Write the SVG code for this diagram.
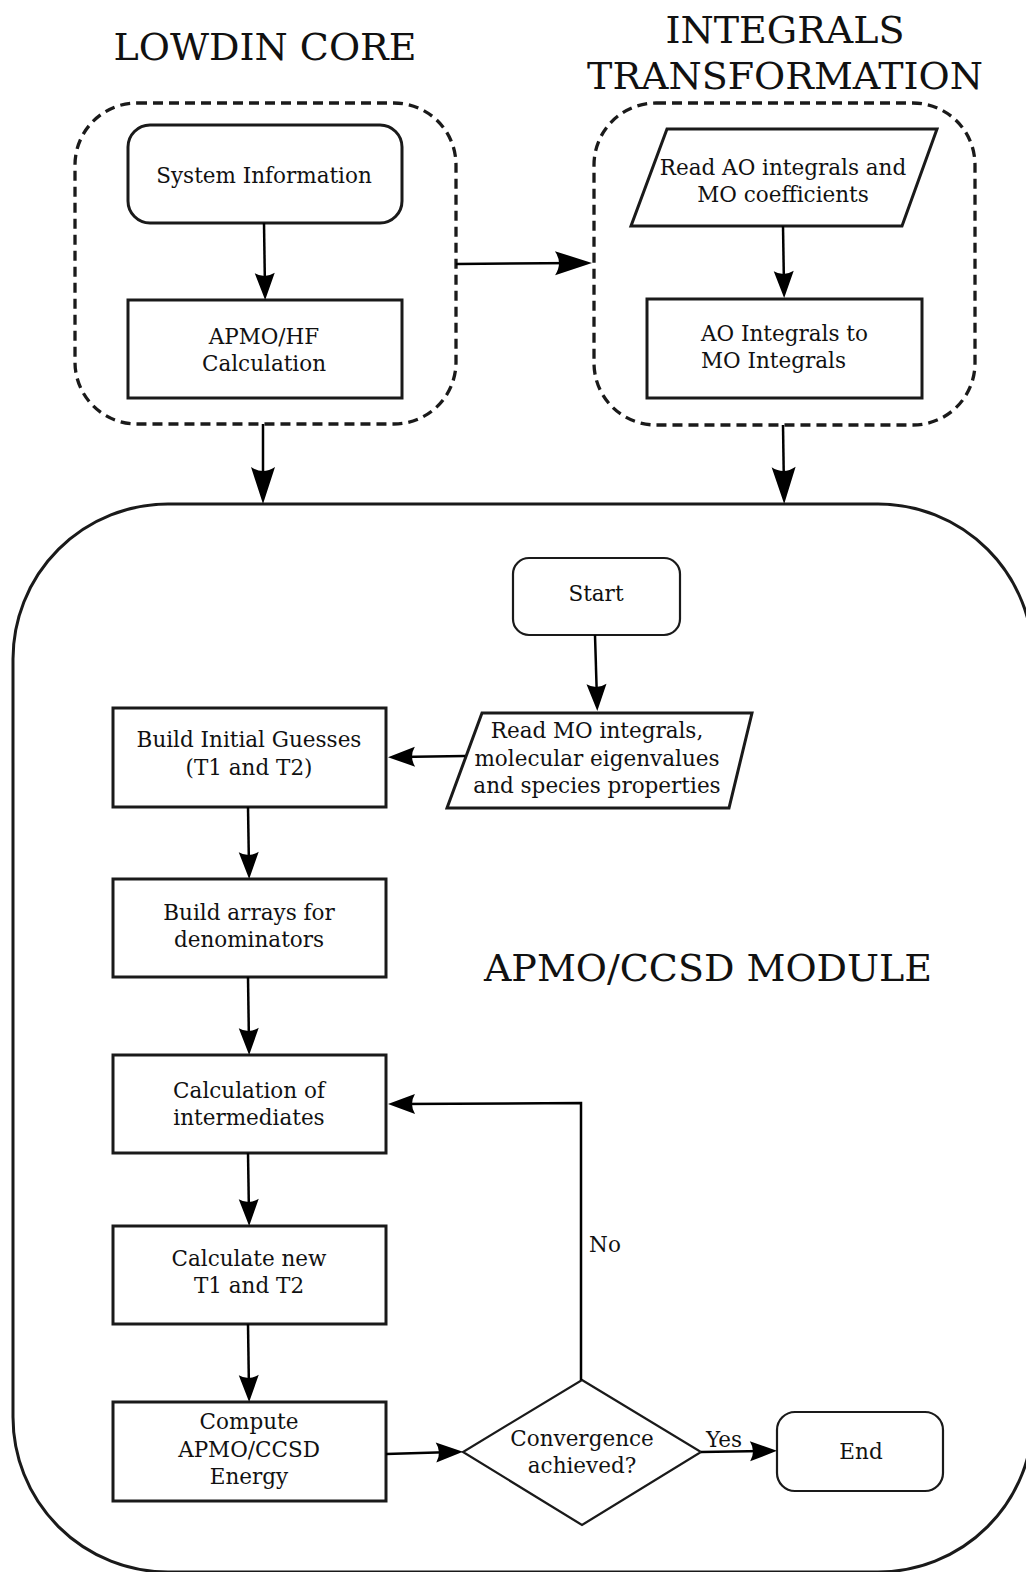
<svg xmlns="http://www.w3.org/2000/svg" width="1026" height="1572" viewBox="0 0 1026 1572">
<style>
text{font-family:"DejaVu Serif","Liberation Serif",serif;fill:#111;}
.t{font-size:21.5px;text-anchor:middle;}
.tl{font-size:21.5px;}
.title{font-size:38px;text-anchor:middle;}
.box{fill:#fff;stroke:#1a1a1a;stroke-width:3;}
.thin{fill:#fff;stroke:#1a1a1a;stroke-width:2.2;}
.dash{fill:none;stroke:#1a1a1a;stroke-width:3.3;stroke-dasharray:10 6;}
.big{fill:none;stroke:#1a1a1a;stroke-width:3;}
.c{fill:none;stroke:#000;stroke-width:2.5;}
</style>
<defs>
<marker id="arr" markerUnits="userSpaceOnUse" viewBox="-30 -12 32 24" markerWidth="32" markerHeight="24" refX="-10" refY="0" orient="auto">
<path d="M0,0 L-27,-10 Q-21,0 -27,10 Z" fill="#000"/>
</marker>
<marker id="arrL" markerUnits="userSpaceOnUse" viewBox="-40 -14 42 28" markerWidth="42" markerHeight="28" refX="-12" refY="0" orient="auto">
<path d="M0,0 L-37,-12 Q-29,0 -37,12 Z" fill="#000"/>
</marker>
</defs>

<text class="title" x="265" y="60">LOWDIN CORE</text>
<text class="title" x="785" y="43">INTEGRALS</text>
<text class="title" x="785" y="89">TRANSFORMATION</text>

<g id="lowdin-core">
<rect class="dash" x="75" y="103" width="381" height="321" rx="62"/>
</g>
<g id="integrals-transformation">
<rect class="dash" x="594" y="103" width="381" height="322" rx="62"/>
</g>
<g id="apmo-ccsd-module">
<rect class="big" x="13" y="504" width="1020" height="1068" rx="155"/>
<text class="title" x="708" y="981">APMO/CCSD MODULE</text>
</g>

<g id="system-information">
<rect class="box" x="128" y="125" width="274" height="98" rx="22"/>
<text class="t" x="264" y="183">System Information</text>
</g>
<g id="apmo-hf">
<rect class="box" x="128" y="300" width="274" height="98"/>
<text class="t" x="264" y="344">APMO/HF</text>
<text class="t" x="264" y="371">Calculation</text>
</g>
<g id="read-ao">
<polygon class="box" points="667,129 937,129 902,226 631,226"/>
<text class="t" x="783" y="175">Read AO integrals and</text>
<text class="t" x="783" y="202">MO coefficients</text>
</g>
<g id="ao-to-mo">
<rect class="box" x="647" y="299" width="275" height="99"/>
<text class="tl" x="701" y="341">AO Integrals to</text>
<text class="tl" x="701" y="368">MO Integrals</text>
</g>

<g id="start">
<rect class="thin" x="513" y="558" width="167" height="77" rx="16"/>
<text class="t" x="596" y="601">Start</text>
</g>
<g id="read-mo">
<polygon class="box" points="482,713 752,713 729,808 447,808"/>
<text class="t" x="597" y="738">Read MO integrals,</text>
<text class="t" x="597" y="766">molecular eigenvalues</text>
<text class="t" x="597" y="793">and species properties</text>
</g>
<g id="build-initial">
<rect class="box" x="113" y="708" width="273" height="99"/>
<text class="t" x="249" y="747">Build Initial Guesses</text>
<text class="t" x="249" y="775">(T1 and T2)</text>
</g>
<g id="build-arrays">
<rect class="box" x="113" y="879" width="273" height="98"/>
<text class="t" x="249" y="920">Build arrays for</text>
<text class="t" x="249" y="947">denominators</text>
</g>
<g id="calc-intermediates">
<rect class="box" x="113" y="1055" width="273" height="98"/>
<text class="t" x="249" y="1098">Calculation of</text>
<text class="t" x="249" y="1125">intermediates</text>
</g>
<g id="calc-new">
<rect class="box" x="113" y="1226" width="273" height="98"/>
<text class="t" x="249" y="1266">Calculate new</text>
<text class="t" x="249" y="1293">T1 and T2</text>
</g>
<g id="compute-energy">
<rect class="box" x="113" y="1402" width="273" height="99"/>
<text class="t" x="249" y="1429">Compute</text>
<text class="t" x="249" y="1457">APMO/CCSD</text>
<text class="t" x="249" y="1484">Energy</text>
</g>
<g id="convergence">
<polygon class="thin" points="582,1380 701,1452 582,1525 463,1452"/>
<text class="t" x="582" y="1446">Convergence</text>
<text class="t" x="582" y="1473">achieved?</text>
</g>
<g id="end">
<rect class="thin" x="777" y="1412" width="166" height="79" rx="18"/>
<text class="t" x="861" y="1459">End</text>
</g>

<g id="connectors">
<line class="c" x1="264" y1="223" x2="265" y2="290" marker-end="url(#arr)"/>
<line class="c" x1="456" y1="264" x2="580" y2="263" marker-end="url(#arrL)"/>
<line class="c" x1="263" y1="424" x2="263" y2="492" marker-end="url(#arrL)"/>
<line class="c" x1="783" y1="425" x2="784" y2="492" marker-end="url(#arrL)"/>
<line class="c" x1="783" y1="226" x2="784" y2="288" marker-end="url(#arr)"/>
<line class="c" x1="595" y1="635" x2="597" y2="701" marker-end="url(#arr)"/>
<line class="c" x1="465" y1="756" x2="398" y2="757" marker-end="url(#arr)"/>
<line class="c" x1="248" y1="807" x2="249" y2="869" marker-end="url(#arr)"/>
<line class="c" x1="248" y1="977" x2="249" y2="1045" marker-end="url(#arr)"/>
<line class="c" x1="248" y1="1153" x2="249" y2="1216" marker-end="url(#arr)"/>
<line class="c" x1="248" y1="1324" x2="249" y2="1392" marker-end="url(#arr)"/>
<line class="c" x1="386" y1="1454" x2="453" y2="1452" marker-end="url(#arr)"/>
<line class="c" x1="701" y1="1452" x2="767" y2="1451" marker-end="url(#arr)"/>
<polyline class="c" points="581,1380 581,1103 398,1104" marker-end="url(#arr)"/>
<text class="t" x="605" y="1252">No</text>
<text class="t" x="724" y="1447">Yes</text>
</g>
</svg>
